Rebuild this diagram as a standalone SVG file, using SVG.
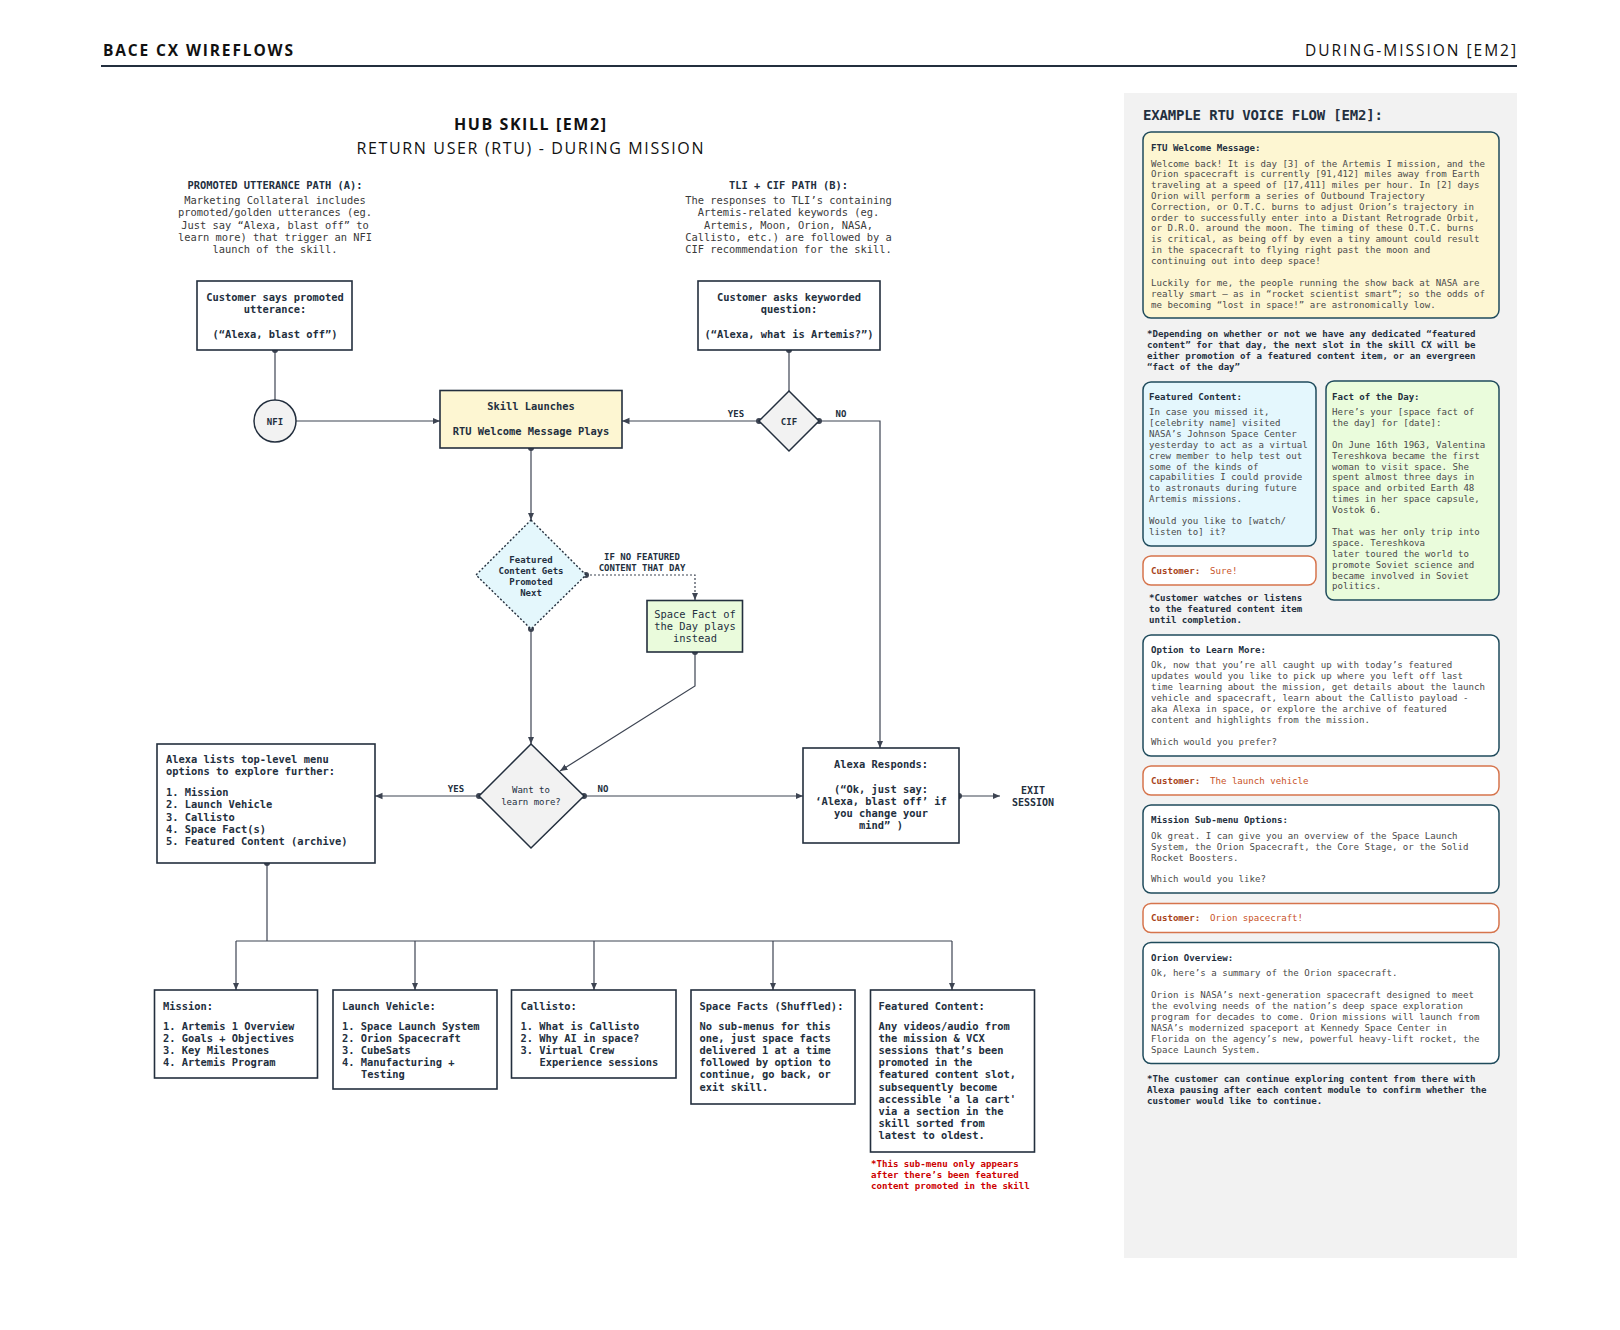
<svg xmlns="http://www.w3.org/2000/svg" width="1620" height="1330" viewBox="0 0 1620 1330">
<style>
.m{font-family:'DejaVu Sans Mono','Liberation Mono',monospace}
.bx{font-family:'DejaVu Sans Mono','Liberation Mono',monospace;font-size:10.4px;font-weight:bold;fill:#232f3e}
.bxr{font-family:'DejaVu Sans Mono','Liberation Mono',monospace;font-size:10.4px;fill:#232f3e}
.par{font-family:'DejaVu Sans Mono','Liberation Mono',monospace;font-size:10.4px;fill:#3a3a3a}
.sm{font-family:'DejaVu Sans Mono','Liberation Mono',monospace;font-size:9px;font-weight:bold;fill:#232f3e}
.rt{font-family:'DejaVu Sans Mono','Liberation Mono',monospace;font-size:9.1px;fill:#4a4a4a}
.rtb{font-family:'DejaVu Sans Mono','Liberation Mono',monospace;font-size:9.1px;font-weight:bold;fill:#232f3e}
.cl{font-family:'DejaVu Sans Mono','Liberation Mono',monospace;font-size:9.1px;font-weight:bold;fill:#a8441a}
.cr{font-family:'DejaVu Sans Mono','Liberation Mono',monospace;font-size:9.1px;fill:#c8521f}
.red{font-family:'DejaVu Sans Mono','Liberation Mono',monospace;font-size:9.1px;font-weight:bold;fill:#cc0000}
.box{fill:#ffffff;stroke:#232f3e;stroke-width:1.6}
.rb{stroke:#1f4b5c;stroke-width:1.5}
.cb{fill:#ffffff;stroke:#d6744c;stroke-width:1.5}
.ln{fill:none;stroke:#3d4452;stroke-width:1.2}
.dot{fill:#3d4452}
.mid{text-anchor:middle}
</style>
<defs>
<marker id="ah" markerWidth="8" markerHeight="8" refX="7.5" refY="4" orient="auto" markerUnits="userSpaceOnUse">
<path d="M0,0.8 L7.5,4 L0,7.2 z" fill="#3d4452"/>
</marker>
</defs>
<rect width="1620" height="1330" fill="#ffffff"/>

<g id="header">
<text x="103" y="56" font-family="'Open Sans','Liberation Sans',sans-serif" font-size="15.5" font-weight="bold" fill="#111" textLength="190" lengthAdjust="spacing">BACE CX WIREFLOWS</text>
<text x="1305" y="56" font-family="'Open Sans','Liberation Sans',sans-serif" font-size="15.5" fill="#111" textLength="211" lengthAdjust="spacing">DURING-MISSION [EM2]</text>
<line x1="101" y1="66" x2="1517" y2="66" stroke="#232f3e" stroke-width="2"/>
</g>

<g id="titles">
<text x="530" y="129.5" class="mid" font-family="'Open Sans','Liberation Sans',sans-serif" font-size="16" font-weight="bold" fill="#111" textLength="152" lengthAdjust="spacing">HUB SKILL [EM2]</text>
<text x="530" y="153.5" class="mid" font-family="'Open Sans','Liberation Sans',sans-serif" font-size="16" fill="#111" textLength="347" lengthAdjust="spacing">RETURN USER (RTU) - DURING MISSION</text>
<text x="275" y="188.5" class="bx mid">PROMOTED UTTERANCE PATH (A):</text>
<text class="par mid"><tspan x="275" y="203.8">Marketing Collateral includes</tspan><tspan x="275" y="216.2">promoted/golden utterances (eg.</tspan><tspan x="275" y="228.6">Just say “Alexa, blast off” to</tspan><tspan x="275" y="241">learn more) that trigger an NFI</tspan><tspan x="275" y="253.4">launch of the skill.</tspan></text>
<text x="788.5" y="188.5" class="bx mid">TLI + CIF PATH (B):</text>
<text class="par mid"><tspan x="788.5" y="203.8">The responses to TLI’s containing</tspan><tspan x="788.5" y="216.2">Artemis-related keywords (eg.</tspan><tspan x="788.5" y="228.6">Artemis, Moon, Orion, NASA,</tspan><tspan x="788.5" y="241">Callisto, etc.) are followed by a</tspan><tspan x="788.5" y="253.4">CIF recommendation for the skill.</tspan></text>
</g>

<g id="connectors">
<line class="ln" x1="275" y1="350" x2="275" y2="400"/>
<circle class="dot" cx="275" cy="350" r="3"/>
<line class="ln" x1="296" y1="421" x2="440" y2="421" marker-end="url(#ah)"/>
<line class="ln" x1="789" y1="350" x2="789" y2="391"/>
<circle class="dot" cx="789" cy="350" r="3"/>
<line class="ln" x1="759" y1="421" x2="622" y2="421" marker-end="url(#ah)"/>
<circle class="dot" cx="759" cy="421" r="3"/>
<polyline class="ln" points="819,421 880,421 880,748" marker-end="url(#ah)"/>
<circle class="dot" cx="819" cy="421" r="3"/>
<line class="ln" x1="531" y1="448" x2="531" y2="520" marker-end="url(#ah)"/>
<circle class="dot" cx="531" cy="448" r="3"/>
<polyline class="ln" points="586,575 695,575 695,600" stroke-dasharray="2,2" marker-end="url(#ah)"/>
<circle class="dot" cx="586" cy="575" r="3"/>
<line class="ln" x1="531" y1="629" x2="531" y2="744" marker-end="url(#ah)"/>
<circle class="dot" cx="531" cy="629" r="3"/>
<polyline class="ln" points="695,652 695,686 560,771" marker-end="url(#ah)"/>
<circle class="dot" cx="695" cy="652" r="3"/>
<line class="ln" x1="479" y1="796" x2="375" y2="796" marker-end="url(#ah)"/>
<circle class="dot" cx="479" cy="796" r="3"/>
<line class="ln" x1="584" y1="796" x2="803" y2="796" marker-end="url(#ah)"/>
<circle class="dot" cx="584" cy="796" r="3"/>
<line class="ln" x1="959" y1="796" x2="1000" y2="796" marker-end="url(#ah)"/>
<circle class="dot" cx="959" cy="796" r="3"/>
<line class="ln" x1="267" y1="863" x2="267" y2="941"/>
<circle class="dot" cx="267" cy="863" r="3"/>
<line class="ln" x1="236" y1="941" x2="952" y2="941"/>
<line class="ln" x1="236" y1="941" x2="236" y2="990" marker-end="url(#ah)"/>
<line class="ln" x1="415" y1="941" x2="415" y2="990" marker-end="url(#ah)"/>
<line class="ln" x1="594" y1="941" x2="594" y2="990" marker-end="url(#ah)"/>
<line class="ln" x1="773" y1="941" x2="773" y2="990" marker-end="url(#ah)"/>
<line class="ln" x1="952" y1="941" x2="952" y2="990" marker-end="url(#ah)"/>
<text x="736" y="416.5" class="sm mid">YES</text>
<text x="841" y="416.5" class="sm mid">NO</text>
<text x="456" y="791.5" class="sm mid">YES</text>
<text x="603" y="791.5" class="sm mid">NO</text>
<text class="sm mid"><tspan x="642" y="560">IF NO FEATURED</tspan><tspan x="642" y="571">CONTENT THAT DAY</tspan></text>
</g>

<g id="customer-says">
<rect class="box" x="197" y="281" width="155" height="69"/>
<text class="bx mid"><tspan x="275" y="301">Customer says promoted</tspan><tspan x="275" y="313.2">utterance:</tspan><tspan x="275" y="337.5">(“Alexa, blast off”)</tspan></text>
</g>

<g id="customer-asks">
<rect class="box" x="698" y="281" width="182" height="69"/>
<text class="bx mid"><tspan x="789" y="301">Customer asks keyworded</tspan><tspan x="789" y="313.2">question:</tspan><tspan x="789" y="337.5">(“Alexa, what is Artemis?”)</tspan></text>
</g>

<g id="nfi">
<circle cx="275" cy="421" r="21" fill="#f2f2f2" stroke="#232f3e" stroke-width="1.5"/>
<text x="275" y="424.5" class="sm mid">NFI</text>
</g>

<g id="cif">
<polygon points="789,391 819,421 789,451 759,421" fill="#f2f2f2" stroke="#232f3e" stroke-width="1.5"/>
<text x="789" y="424.5" class="sm mid">CIF</text>
</g>

<g id="skill-launches">
<rect x="440" y="390.5" width="182" height="57.5" fill="#fdf6d2" stroke="#232f3e" stroke-width="1.6"/>
<text class="bx mid"><tspan x="531" y="410">Skill Launches</tspan><tspan x="531" y="434.5">RTU Welcome Message Plays</tspan></text>
</g>

<g id="featured-decision">
<polygon points="531,520 586,575 531,629 476,575" fill="#e4f7fc" stroke="#232f3e" stroke-width="1.4" stroke-dasharray="2,2"/>
<text class="sm mid"><tspan x="531" y="563">Featured</tspan><tspan x="531" y="574">Content Gets</tspan><tspan x="531" y="584.8">Promoted</tspan><tspan x="531" y="595.5">Next</tspan></text>
</g>

<g id="space-fact-day">
<rect x="647" y="600.5" width="95.5" height="51.5" fill="#eafbdc" stroke="#232f3e" stroke-width="1.6"/>
<text class="bxr mid"><tspan x="695" y="617.5">Space Fact of</tspan><tspan x="695" y="630">the Day plays</tspan><tspan x="695" y="642.3">instead</tspan></text>
</g>

<g id="want-learn">
<polygon points="531,744 584,796 531,848 479,796" fill="#f2f2f2" stroke="#232f3e" stroke-width="1.5"/>
<text class="sm mid" style="font-weight:normal"><tspan x="531" y="793">Want to</tspan><tspan x="531" y="804.5">learn more?</tspan></text>
</g>

<g id="alexa-lists">
<rect class="box" x="157" y="744" width="218" height="119"/>
<text class="bx"><tspan x="166" y="763">Alexa lists top-level menu</tspan><tspan x="166" y="775.3">options to explore further:</tspan><tspan x="166" y="796">1. Mission</tspan><tspan x="166" y="808.4">2. Launch Vehicle</tspan><tspan x="166" y="820.8">3. Callisto</tspan><tspan x="166" y="833">4. Space Fact(s)</tspan><tspan x="166" y="845.4">5. Featured Content (archive)</tspan></text>
</g>

<g id="alexa-responds">
<rect class="box" x="803" y="748" width="156" height="95"/>
<text class="bx mid"><tspan x="881" y="768">Alexa Responds:</tspan><tspan x="881" y="792.5">(“Ok, just say:</tspan><tspan x="881" y="804.8">‘Alexa, blast off’ if</tspan><tspan x="881" y="817.1">you change your</tspan><tspan x="881" y="829.4">mind” )</tspan></text>
</g>

<g id="exit-session">
<text class="bx mid" style="font-size:10px"><tspan x="1033" y="793.5">EXIT</tspan><tspan x="1033" y="806">SESSION</tspan></text>
</g>

<g id="mission">
<rect class="box" x="154.5" y="990" width="163" height="88"/>
<text class="bx"><tspan x="163" y="1009.5">Mission:</tspan><tspan x="163" y="1029.5">1. Artemis 1 Overview</tspan><tspan x="163" y="1041.7">2. Goals + Objectives</tspan><tspan x="163" y="1054">3. Key Milestones</tspan><tspan x="163" y="1066.2">4. Artemis Program</tspan></text>
</g>

<g id="launch-vehicle">
<rect class="box" x="333" y="990" width="164" height="99"/>
<text class="bx"><tspan x="342" y="1009.5">Launch Vehicle:</tspan><tspan x="342" y="1029.5">1. Space Launch System</tspan><tspan x="342" y="1041.7">2. Orion Spacecraft</tspan><tspan x="342" y="1054">3. CubeSats</tspan><tspan x="342" y="1066.2">4. Manufacturing +</tspan><tspan x="361" y="1078.4">Testing</tspan></text>
</g>

<g id="callisto">
<rect class="box" x="511.5" y="990" width="164.5" height="88"/>
<text class="bx"><tspan x="520.5" y="1009.5">Callisto:</tspan><tspan x="520.5" y="1029.5">1. What is Callisto</tspan><tspan x="520.5" y="1041.7">2. Why AI in space?</tspan><tspan x="520.5" y="1054">3. Virtual Crew</tspan><tspan x="539.5" y="1066.2">Experience sessions</tspan></text>
</g>

<g id="space-facts">
<rect class="box" x="691" y="990" width="164" height="114"/>
<text class="bx"><tspan x="699.5" y="1009.5">Space Facts (Shuffled):</tspan><tspan x="699.5" y="1029.5">No sub-menus for this</tspan><tspan x="699.5" y="1041.7">one, just space facts</tspan><tspan x="699.5" y="1054">delivered 1 at a time</tspan><tspan x="699.5" y="1066.2">followed by option to</tspan><tspan x="699.5" y="1078.4">continue, go back, or</tspan><tspan x="699.5" y="1090.6">exit skill.</tspan></text>
</g>

<g id="featured-content">
<rect class="box" x="870.5" y="990" width="164" height="162"/>
<text class="bx"><tspan x="878.5" y="1009.5">Featured Content:</tspan><tspan x="878.5" y="1029.5">Any videos/audio from</tspan><tspan x="878.5" y="1041.7">the mission &amp; VCX</tspan><tspan x="878.5" y="1054">sessions that’s been</tspan><tspan x="878.5" y="1066.2">promoted in the</tspan><tspan x="878.5" y="1078.4">featured content slot,</tspan><tspan x="878.5" y="1090.6">subsequently become</tspan><tspan x="878.5" y="1102.8">accessible 'a la cart'</tspan><tspan x="878.5" y="1115">via a section in the</tspan><tspan x="878.5" y="1127.2">skill sorted from</tspan><tspan x="878.5" y="1139.4">latest to oldest.</tspan></text>
<text class="red"><tspan x="871" y="1167">*This sub-menu only appears</tspan><tspan x="871" y="1178">after there’s been featured</tspan><tspan x="871" y="1188.8">content promoted in the skill</tspan></text>
</g>

<g id="voice-flow-panel">
<rect x="1124" y="93" width="393" height="1165" fill="#f2f2f2"/>
<text x="1143" y="120" class="m" font-size="14" font-weight="bold" fill="#232f3e" textLength="240" lengthAdjust="spacing">EXAMPLE RTU VOICE FLOW [EM2]:</text>
</g>

<g id="ftu-welcome">
<rect x="1143" y="132" width="356" height="186" rx="8" fill="#fdf6d2" class="rb"/>
<text x="1151" y="151" class="rtb">FTU Welcome Message:</text>
<text class="rt"><tspan x="1151" y="166.5">Welcome back! It is day [3] of the Artemis I mission, and the</tspan><tspan x="1151" y="177.3">Orion spacecraft is currently [91,412] miles away from Earth</tspan><tspan x="1151" y="188.1">traveling at a speed of [17,411] miles per hour. In [2] days</tspan><tspan x="1151" y="198.9">Orion will perform a series of Outbound Trajectory</tspan><tspan x="1151" y="209.7">Correction, or O.T.C. burns to adjust Orion’s trajectory in</tspan><tspan x="1151" y="220.5">order to successfully enter into a Distant Retrograde Orbit,</tspan><tspan x="1151" y="231.3">or D.R.O. around the moon. The timing of these O.T.C. burns</tspan><tspan x="1151" y="242.1">is critical, as being off by even a tiny amount could result</tspan><tspan x="1151" y="252.9">in the spacecraft to flying right past the moon and</tspan><tspan x="1151" y="263.7">continuing out into deep space!</tspan><tspan x="1151" y="286.3">Luckily for me, the people running the show back at NASA are</tspan><tspan x="1151" y="297.1">really smart – as in “rocket scientist smart”; so the odds of</tspan><tspan x="1151" y="307.9">me becoming “lost in space!” are astronomically low.</tspan></text>
</g>

<g id="note-depending">
<text class="rtb"><tspan x="1147" y="337">*Depending on whether or not we have any dedicated “featured</tspan><tspan x="1147" y="348">content” for that day, the next slot in the skill CX will be</tspan><tspan x="1147" y="359">either promotion of a featured content item, or an evergreen</tspan><tspan x="1147" y="370">“fact of the day”</tspan></text>
</g>

<g id="featured-content-msg">
<rect x="1143" y="382" width="173" height="164" rx="8" fill="#e4f7fd" class="rb"/>
<text x="1149" y="399.5" class="rtb">Featured Content:</text>
<text class="rt"><tspan x="1149" y="415">In case you missed it,</tspan><tspan x="1149" y="426">[celebrity name] visited</tspan><tspan x="1149" y="437">NASA’s Johnson Space Center</tspan><tspan x="1149" y="447.8">yesterday to act as a virtual</tspan><tspan x="1149" y="458.7">crew member to help test out</tspan><tspan x="1149" y="469.5">some of the kinds of</tspan><tspan x="1149" y="480.4">capabilities I could provide</tspan><tspan x="1149" y="491.3">to astronauts during future</tspan><tspan x="1149" y="502.2">Artemis missions.</tspan><tspan x="1149" y="524">Would you like to [watch/</tspan><tspan x="1149" y="535">listen to] it?</tspan></text>
</g>

<g id="fact-of-day-msg">
<rect x="1326" y="381" width="173" height="219" rx="8" fill="#eafcdc" class="rb"/>
<text x="1332" y="399.5" class="rtb">Fact of the Day:</text>
<text class="rt"><tspan x="1332" y="415">Here’s your [space fact of</tspan><tspan x="1332" y="426">the day] for [date]:</tspan><tspan x="1332" y="447.8">On June 16th 1963, Valentina</tspan><tspan x="1332" y="458.7">Tereshkova became the first</tspan><tspan x="1332" y="469.5">woman to visit space. She</tspan><tspan x="1332" y="480.4">spent almost three days in</tspan><tspan x="1332" y="491.3">space and orbited Earth 48</tspan><tspan x="1332" y="502.2">times in her space capsule,</tspan><tspan x="1332" y="513.1">Vostok 6.</tspan><tspan x="1332" y="535">That was her only trip into</tspan><tspan x="1332" y="545.8">space. Tereshkova</tspan><tspan x="1332" y="556.7">later toured the world to</tspan><tspan x="1332" y="567.6">promote Soviet science and</tspan><tspan x="1332" y="578.5">became involved in Soviet</tspan><tspan x="1332" y="589.4">politics.</tspan></text>
</g>

<g id="customer-sure">
<rect x="1143" y="556" width="173" height="29" rx="8" class="cb"/>
<text y="574"><tspan x="1151" class="cl">Customer:</tspan><tspan x="1210" class="cr">Sure!</tspan></text>
</g>

<g id="note-watches">
<text class="rtb"><tspan x="1149" y="601">*Customer watches or listens</tspan><tspan x="1149" y="612">to the featured content item</tspan><tspan x="1149" y="623">until completion.</tspan></text>
</g>

<g id="option-learn-more">
<rect x="1143" y="635" width="356" height="121" rx="8" fill="#ffffff" class="rb"/>
<text x="1151" y="653" class="rtb">Option to Learn More:</text>
<text class="rt"><tspan x="1151" y="668">Ok, now that you’re all caught up with today’s featured</tspan><tspan x="1151" y="679">updates would you like to pick up where you left off last</tspan><tspan x="1151" y="690">time learning about the mission, get details about the launch</tspan><tspan x="1151" y="701">vehicle and spacecraft, learn about the Callisto payload -</tspan><tspan x="1151" y="712">aka Alexa in space, or explore the archive of featured</tspan><tspan x="1151" y="722.8">content and highlights from the mission.</tspan><tspan x="1151" y="744.5">Which would you prefer?</tspan></text>
</g>

<g id="customer-launch">
<rect x="1143" y="766" width="356" height="29" rx="8" class="cb"/>
<text y="783.5"><tspan x="1151" class="cl">Customer:</tspan><tspan x="1210" class="cr">The launch vehicle</tspan></text>
</g>

<g id="mission-submenu">
<rect x="1143" y="805" width="356" height="88" rx="8" fill="#ffffff" class="rb"/>
<text x="1151" y="823" class="rtb">Mission Sub-menu Options:</text>
<text class="rt"><tspan x="1151" y="838.5">Ok great. I can give you an overview of the Space Launch</tspan><tspan x="1151" y="849.5">System, the Orion Spacecraft, the Core Stage, or the Solid</tspan><tspan x="1151" y="860.5">Rocket Boosters.</tspan><tspan x="1151" y="882">Which would you like?</tspan></text>
</g>

<g id="customer-orion">
<rect x="1143" y="903.5" width="356" height="29" rx="8" class="cb"/>
<text y="921"><tspan x="1151" class="cl">Customer:</tspan><tspan x="1210" class="cr">Orion spacecraft!</tspan></text>
</g>

<g id="orion-overview">
<rect x="1143" y="942.5" width="356" height="121" rx="8" fill="#ffffff" class="rb"/>
<text x="1151" y="960.5" class="rtb">Orion Overview:</text>
<text class="rt"><tspan x="1151" y="976">Ok, here’s a summary of the Orion spacecraft.</tspan><tspan x="1151" y="998">Orion is NASA’s next-generation spacecraft designed to meet</tspan><tspan x="1151" y="1009">the evolving needs of the nation’s deep space exploration</tspan><tspan x="1151" y="1019.8">program for decades to come. Orion missions will launch from</tspan><tspan x="1151" y="1030.8">NASA’s modernized spaceport at Kennedy Space Center in</tspan><tspan x="1151" y="1041.5">Florida on the agency’s new, powerful heavy-lift rocket, the</tspan><tspan x="1151" y="1052.5">Space Launch System.</tspan></text>
</g>

<g id="note-continue">
<text class="rtb"><tspan x="1147" y="1082">*The customer can continue exploring content from there with</tspan><tspan x="1147" y="1093">Alexa pausing after each content module to confirm whether the</tspan><tspan x="1147" y="1104">customer would like to continue.</tspan></text>
</g>
</svg>
